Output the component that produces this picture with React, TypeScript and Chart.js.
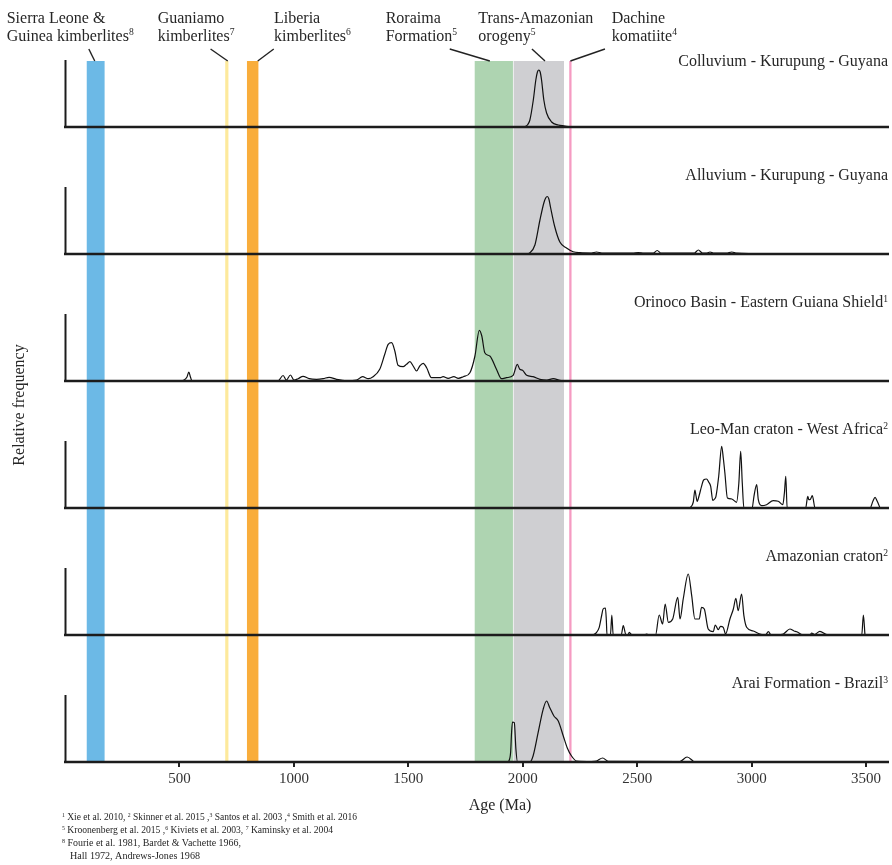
import React, { useEffect, useRef } from 'react';
import { Chart, registerables } from 'chart.js';

Chart.register(...registerables);

const FONT = '"Liberation Serif", "Times New Roman", "DejaVu Serif", serif';

// ---- axis ----
const xTickValues = [500, 1000, 1500, 2000, 2500, 3000, 3500];
const X_MIN = 0;
const X_MAX = 3600;
const Y_MAX = 127;
const AXIS_TOP = 66;

// ---- panels ----
const panelNames = [
  'Colluvium - Kurupung - Guyana',
  'Alluvium - Kurupung - Guyana',
  'Orinoco Basin - Eastern Guiana Shield^1',
  'Leo-Man craton - West Africa^2',
  'Amazonian craton^2',
  'Arai Formation - Brazil^3',
];

const colluviumAges = [2005, 2020, 2031, 2046, 2057, 2064, 2070, 2076, 2082, 2092, 2104, 2126, 2155, 2184, 2205];
const colluviumFreq = [0, 2, 7, 27, 47, 55, 57, 55, 47, 27, 14, 5, 2, 1, 0];

const alluviumAges = [2015, 2030, 2053, 2075, 2092, 2100, 2107, 2114, 2121, 2140, 2162, 2191, 2220, 2250, 2300, 2322, 2345, 2400, 2480, 2504, 2530, 2570, 2587, 2605, 2700, 2750, 2767, 2785, 2805, 2818, 2835, 2890, 2913, 2935, 3000];
const alluviumFreq = [0, 1, 9, 34, 51, 56, 57.5, 55, 47, 27, 12, 6, 2.3, 1.3, 1, 2, 1, 0.8, 0.8, 1.5, 0.8, 0.8, 3.5, 0.8, 0.8, 1, 4, 1, 1, 2, 0.8, 0.8, 2, 0.8, 0.5];

const orinocoAges = [500, 520, 533, 541, 548, 555, 930, 953, 967, 985, 1000, 1018, 1040, 1067, 1099, 1128, 1154, 1186, 1230, 1274, 1300, 1325, 1346, 1375, 1397, 1412, 1427, 1441, 1455, 1477, 1492, 1507, 1521, 1536, 1550, 1565, 1580, 1601, 1638, 1652, 1674, 1699, 1718, 1740, 1769, 1791, 1810, 1821, 1834, 1856, 1885, 1907, 1929, 1958, 1976, 1987, 1999, 2017, 2045, 2075, 2105, 2133, 2162, 2180];
const orinocoFreq = [0, 1, 4, 9, 4, 0, 0, 5.5, 1, 6, 1, 2.3, 4.7, 2.3, 1.7, 2.3, 3.7, 1.7, 0.3, 1, 4.3, 2.3, 4.3, 11.7, 26.7, 36.7, 38.3, 30, 15.7, 14.3, 16.7, 19.3, 15, 10, 15, 17.7, 13.3, 3.3, 3.3, 4.3, 2.7, 4.3, 2.7, 4.3, 8.3, 25, 50.7, 45, 28.3, 25, 11.7, 2.3, 3.3, 5.7, 16.7, 11.7, 10.7, 5.7, 4.3, 1.7, 1, 2.3, 0.7, 0];

const leoManAges = [2730, 2745, 2752, 2757, 2762, 2770, 2781, 2790, 2803, 2812, 2821, 2830, 2838, 2844, 2856, 2869, 2876, 2883, 2894, 2913, 2934, 2944, 2952, 2959, 2966, 3002, 3010, 3022, 3029, 3044, 3065, 3094, 3116, 3136, 3143, 3149, 3155, 3236, 3245, 3250, 3255, 3265, 3277, 3517, 3530, 3539, 3548, 3561];
const leoManFreq = [0, 6, 18, 12, 6.7, 12, 21.7, 28, 29, 26, 21.7, 7.7, 9, 11.7, 31.7, 61.7, 50, 35, 10, 9, 5.7, 25, 56.7, 25, 0, 0, 11.7, 23.3, 8.3, 2.3, 3.3, 7.3, 6.7, 3.3, 15, 31.7, 0, 0, 11.7, 8.3, 8.3, 12.3, 0, 0, 7, 10.7, 7, 0];

const amazonianAges = [2305, 2320, 2334, 2345, 2351, 2361, 2365, 2368, 2383, 2389, 2395, 2430, 2439, 2451, 2460, 2465, 2477, 2530, 2541, 2556, 2580, 2596, 2611, 2622, 2636, 2655, 2677, 2687, 2701, 2723, 2738, 2752, 2771, 2781, 2793, 2810, 2832, 2841, 2854, 2864, 2876, 2886, 2905, 2920, 2931, 2941, 2956, 2966, 2978, 3007, 3036, 3060, 3073, 3085, 3138, 3167, 3185, 3197, 3225, 3255, 3262, 3275, 3298, 3328, 3350, 3481, 3488, 3495];
const amazonianFreq = [0, 2, 7.7, 20, 26, 27, 15, 0, 0, 20, 0, 0, 9.3, 0, 0, 2.7, 0, 0, 1, 0, 0, 20, 11, 31, 12.7, 16, 37.7, 16, 36, 61, 39.3, 16, 16, 27.7, 26, 6, 3.3, 10, 5.3, 8.7, 7.7, 1, 16, 26, 36.7, 24.3, 41, 19.3, 7.7, 4, 1, 0, 3.3, 0, 1, 6, 4, 3.3, 0, 0, 2, 0.5, 3.7, 0.3, 0, 0, 20, 0];

const araiAges = [1938, 1947, 1951, 1955, 1963, 1970, 1977, 2031, 2045, 2067, 2089, 2104, 2118, 2136, 2155, 2177, 2194, 2213, 2235, 2300, 2322, 2349, 2373, 2686, 2718, 2745];
const araiFreq = [0, 10, 29.3, 40, 39.3, 12.7, 0, 0, 6, 29.3, 52.7, 61, 54.3, 46, 41, 26, 14.3, 6, 1, 0.5, 1, 4, 0.7, 0.5, 5, 0.7];

const panelAges = [colluviumAges, alluviumAges, orinocoAges, leoManAges, amazonianAges, araiAges];
const panelFreq = [colluviumFreq, alluviumFreq, orinocoFreq, leoManFreq, amazonianFreq, araiFreq];

// ---- reference age bands ----
const bandLine1 = ['Sierra Leone &', 'Guaniamo', 'Liberia', 'Roraima', 'Trans-Amazonian', 'Dachine'];
const bandLine2 = ['Guinea kimberlites^8', 'kimberlites^7', 'kimberlites^6', 'Formation^5', 'orogeny^5', 'komatiite^4'];
const bandStart = [95, 700, 795, 1790, 1960, 2203];
const bandEnd = [173, 714, 845, 1957, 2180, 2213];
const bandColors = ['#6cb9e6', '#fde99c', '#f9ad3b', '#aed4b1', '#cfcfd2', '#f59bc2'];
const leaderFrom = [104, 636, 912, 1681, 2040, 2359];
const leaderTo = [130, 711, 842, 1856, 2097, 2208];

const footnotes = [
  '^1 Xie et al. 2010, ^2 Skinner et al. 2015 ,^3 Santos et al. 2003 ,^4 Smith et al. 2016',
  '^5 Kroonenberg et al. 2015 ,^6 Kiviets et al. 2003, ^7 Kaminsky et al. 2004',
  '^8 Fourie et al. 1981, Bardet & Vachette 1966,',
  'Hall 1972, Andrews-Jones 1968',
];

type Part = { t: string; sup: boolean };
const splitRich = (text: string): Part[] => {
  const out: Part[] = [];
  text.split(/(\^\d)/).forEach((p) => {
    if (!p) return;
    if (p[0] === '^') out.push({ t: p.slice(1), sup: true });
    else out.push({ t: p, sup: false });
  });
  return out;
};

const richWidth = (ctx: CanvasRenderingContext2D, text: string, size: number) => {
  let w = 0;
  for (const p of splitRich(text)) {
    ctx.font = `${p.sup ? size * 0.6 : size}px ${FONT}`;
    w += ctx.measureText(p.t).width;
  }
  return w;
};

const drawRich = (
  ctx: CanvasRenderingContext2D,
  text: string,
  x: number,
  y: number,
  size: number,
  align: 'left' | 'right' = 'left',
  maxWidth?: number,
) => {
  const w = richWidth(ctx, text, size);
  const sx = maxWidth ? maxWidth / w : 1;
  const x0 = align === 'right' ? x - w * sx : x;
  ctx.save();
  ctx.translate(x0, y);
  ctx.scale(sx, 1);
  ctx.textAlign = 'left';
  ctx.textBaseline = 'alphabetic';
  let cx = 0;
  for (const p of splitRich(text)) {
    ctx.font = `${p.sup ? size * 0.6 : size}px ${FONT}`;
    ctx.fillText(p.t, cx, p.sup ? -size * 0.33 : 0);
    cx += ctx.measureText(p.t).width;
  }
  ctx.restore();
};

const overlayPlugin = {
  id: 'overlay',
  beforeDatasetsDraw(chart: any) {
    const ctx = chart.ctx as CanvasRenderingContext2D;
    const xs = chart.scales.x;
    const top = chart.scales.y0.getPixelForValue(AXIS_TOP);
    const bottom = chart.scales.y5.getPixelForValue(0);
    ctx.save();
    for (let i = 0; i < bandStart.length; i++) {
      const a = xs.getPixelForValue(bandStart[i]);
      const b = xs.getPixelForValue(bandEnd[i]);
      ctx.fillStyle = bandColors[i];
      ctx.fillRect(a, top, b - a, bottom - top);
    }
    ctx.restore();
  },
  afterDatasetsDraw(chart: any) {
    const ctx = chart.ctx as CanvasRenderingContext2D;
    const area = chart.chartArea;
    ctx.save();
    ctx.strokeStyle = '#1c1c1c';
    for (let i = 0; i < panelNames.length; i++) {
      const ys = chart.scales['y' + i];
      const y0 = ys.getPixelForValue(0);
      ctx.lineWidth = 2.6;
      ctx.beginPath();
      ctx.moveTo(area.left - 1, y0);
      ctx.lineTo(area.right, y0);
      ctx.stroke();
      ctx.lineWidth = 2;
      ctx.beginPath();
      ctx.moveTo(area.left + 0.5, y0);
      ctx.lineTo(area.left + 0.5, ys.getPixelForValue(AXIS_TOP + 1));
      ctx.stroke();
    }
    ctx.restore();
  },
  afterDraw(chart: any) {
    const ctx = chart.ctx as CanvasRenderingContext2D;
    const xs = chart.scales.x;
    ctx.save();
    ctx.fillStyle = '#262626';
    // panel titles
    for (let i = 0; i < panelNames.length; i++) {
      const y0 = chart.scales['y' + i].getPixelForValue(0);
      drawRich(ctx, panelNames[i], 888, y0 - (i === 0 ? 61.5 : 74), 16, 'right');
    }
    // band labels + leader lines
    const labelX = [6.7, 157.7, 274, 385.7, 478.3, 611.7];
    const bandTop = chart.scales.y0.getPixelForValue(AXIS_TOP);
    for (let i = 0; i < bandLine1.length; i++) {
      drawRich(ctx, bandLine1[i], labelX[i], 22.5, 16);
      drawRich(ctx, bandLine2[i], labelX[i], 40.5, 16);
      ctx.strokeStyle = '#222';
      ctx.lineWidth = 1.4;
      ctx.beginPath();
      ctx.moveTo(xs.getPixelForValue(leaderFrom[i]), bandTop - 12);
      ctx.lineTo(xs.getPixelForValue(leaderTo[i]), bandTop);
      ctx.stroke();
    }
    // axis titles
    ctx.font = `16px ${FONT}`;
    ctx.textAlign = 'center';
    ctx.textBaseline = 'middle';
    ctx.fillText('Age (Ma)', 500, 806);
    ctx.save();
    ctx.translate(20, 405);
    ctx.rotate(-Math.PI / 2);
    ctx.fillText('Relative frequency', 0, 0);
    ctx.restore();
    // footnotes
    const fnX = [62, 62, 62, 70];
    const fnW = [295, 271, 179, 130];
    for (let i = 0; i < footnotes.length; i++) {
      drawRich(ctx, footnotes[i], fnX[i], 820 + i * 13, 10, 'left', fnW[i]);
    }
    ctx.restore();
  },
};

export default function App() {
  const ref = useRef<HTMLCanvasElement>(null);
  useEffect(() => {
    if (!ref.current) return;
    const scales: any = {
      x: {
        type: 'linear',
        min: X_MIN,
        max: X_MAX,
        position: 'bottom',
        afterBuildTicks: (s: any) => {
          s.ticks = xTickValues.map((v) => ({ value: v }));
        },
        grid: { display: true, drawOnChartArea: false, drawTicks: true, tickLength: 5, lineWidth: 2, color: '#222' },
        border: { display: false },
        ticks: {
          font: { family: FONT, size: 15 },
          color: '#333',
          padding: 3,
          maxRotation: 0,
          autoSkip: false,
          callback: (v: any) => String(v),
        },
      },
    };
    for (let i = 0; i < panelNames.length; i++) {
      scales['y' + i] = {
        type: 'linear',
        position: 'left',
        stack: 'panels',
        stackWeight: 1,
        weight: panelNames.length - i,
        min: 0,
        max: Y_MAX,
        display: true,
        grid: { display: false },
        ticks: { display: false },
        border: { display: false },
      };
    }
    const datasets = panelNames.map((name, i) => ({
      label: name,
      data: panelAges[i].map((a, j) => ({ x: a, y: panelFreq[i][j] })),
      yAxisID: 'y' + i,
      borderColor: '#111',
      borderWidth: 1.2,
      pointRadius: 0,
      fill: false,
      cubicInterpolationMode: 'monotone' as const,
    }));
    const chart = new Chart(ref.current, {
      type: 'line',
      data: { datasets },
      options: {
        responsive: false,
        maintainAspectRatio: false,
        animation: false,
        events: [],
        layout: { padding: { top: 0, left: 57, right: 3, bottom: 74 } },
        plugins: { legend: { display: false }, tooltip: { enabled: false } },
        scales,
      },
      plugins: [overlayPlugin],
    });
    return () => chart.destroy();
  }, []);
  return (
    <div style={{ position: 'absolute', left: 0, top: 0, width: 892, height: 865, overflow: 'hidden', background: '#fff' }}>
      <canvas ref={ref} width={892} height={865} style={{ display: 'block' }} />
    </div>
  );
}
